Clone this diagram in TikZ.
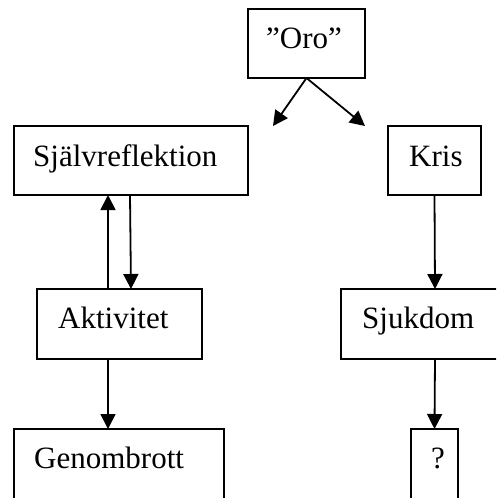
\documentclass[tikz,border=0pt]{standalone}
\usepackage{fontspec}
\setmainfont{Liberation Serif}
\usetikzlibrary{arrows.meta}
\begin{document}
\begin{tikzpicture}[x=1pt,y=-1pt,
  box/.style={draw=black,line width=1.4pt,rectangle,anchor=north west,inner sep=0pt,outer sep=0pt},
  lbl/.style={anchor=base west,inner sep=0pt,font=\fontsize{31}{36}\selectfont},
  arr/.style={line width=1.8pt,-{Triangle[length=15pt,width=15pt]}}]
  \clip (0,0) rectangle (496,498);
  \useasboundingbox (0,0) rectangle (496,498);

  % boxes
  \node[box,minimum width=117pt,minimum height=69pt] (oro)   at (248,9)   {};
  \node[box,minimum width=234pt,minimum height=69pt] (sjalv) at (14,126)  {};
  \node[box,minimum width=93pt, minimum height=69pt] (kris)  at (388,126) {};
  \node[box,minimum width=165pt,minimum height=70pt] (akt)   at (37,289)  {};
  \node[box,minimum width=190pt,minimum height=70pt] (sjuk)  at (341,289) {};
  \node[box,minimum width=210pt,minimum height=90pt] (gen)   at (14,429)  {};
  \node[box,minimum width=47pt, minimum height=90pt] (q)     at (411,429) {};

  % labels
  \node[lbl] (toro)   at (266,48)  {”Oro”};
  \node[lbl] (tsjalv) at (33,166)  {Självreflektion};
  \node[lbl] (tkris)  at (409,166) {Kris};
  \node[lbl] (takt)   at (58,328)  {Aktivitet};
  \node[lbl] (tsjuk)  at (362,328) {Sjukdom};
  \node[lbl] (tgen)   at (34,468)  {Genombrott};
  \node[lbl] (tq)     at (431,468) {?};

  % free ends of the split below "Oro"
  \coordinate (tipL) at (273,126);
  \coordinate (tipR) at (365,126);

  % connectors
  \draw[arr] (oro.south) -- (tipL);
  \draw[arr] (oro.south) -- (tipR);
  \draw[arr] ([xshift=71pt]akt.north west) -- ([xshift=94pt]sjalv.south west);
  \draw[arr] ([xshift=116pt]sjalv.south west) -- ([xshift=94pt]akt.north west);
  \draw[arr] (kris.south) -- ([xshift=94pt]sjuk.north west);
  \draw[arr] ([xshift=71pt]akt.south west) -- ([xshift=94pt]gen.north west);
  \draw[arr] ([xshift=94pt]sjuk.south west) -- (q.north);
\end{tikzpicture}
\end{document}
